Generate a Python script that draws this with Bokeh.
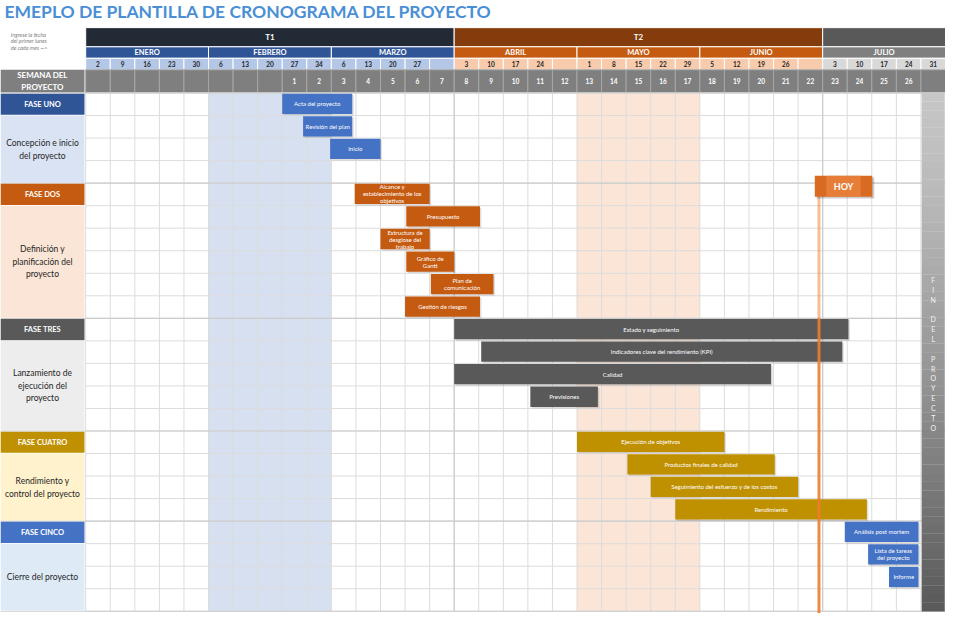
import numpy as np
from bokeh.plotting import figure
from bokeh.models import ColumnDataSource, Range1d
from bokeh.core.properties import value
from bokeh.embed import file_html
from bokeh.resources import INLINE

FONT = "Lato"

# ---------------- data ----------------
TITLE = "EMEPLO DE PLANTILLA DE CRONOGRAMA DEL PROYECTO"
NOTE = "Ingrese la fecha\ndel primer lunes\nde cada mes —>"
WEEK_HEADER = "SEMANA DEL\nPROYECTO"

quarter_labels = ["T1", "T2", ""]
quarter_first_col = [0, 15, 30]
quarter_last_col = [15, 30, 35]

month_labels = ["ENERO", "FEBRERO", "MARZO", "ABRIL", "MAYO", "JUNIO", "JULIO"]
month_first_col = [0, 5, 10, 15, 20, 25, 30]
month_last_col = [5, 10, 15, 20, 25, 30, 35]
month_quarter = [0, 0, 0, 1, 1, 1, 2]

week_dates = ["2", "9", "16", "23", "30",
              "6", "13", "20", "27", "34",
              "6", "13", "20", "27", "",
              "3", "10", "17", "24", "",
              "1", "8", "15", "22", "29",
              "5", "12", "19", "26", "",
              "3", "10", "17", "24", "31"]
project_weeks = ["", "", "", "", "", "", "", "", "1", "2",
                 "3", "4", "5", "6", "7", "8", "9", "10", "11", "12",
                 "13", "14", "15", "16", "17", "18", "19", "20", "21", "22",
                 "23", "24", "25", "26", ""]

phase_names = ["FASE UNO", "FASE DOS", "FASE TRES", "FASE CUATRO", "FASE CINCO"]
phase_desc = ["Concepción e inicio\ndel proyecto",
              "Definición y\nplanificación del\nproyecto",
              "Lanzamiento de\nejecución del\nproyecto",
              "Rendimiento y\ncontrol del proyecto",
              "Cierre del proyecto"]
phase_first_row = [0, 4, 10, 15, 19]
phase_row_count = [4, 6, 5, 4, 4]

task_names = ["Acta del proyecto", "Revisión del plan", "Inicio",
              "Alcance y\nestablecimiento de los\nobjetivos", "Presupuesto",
              "Estructura de\ndesglose del\ntrabajo", "Gráfico de\nGantt",
              "Plan de\ncomunicación", "Gestión de riesgos",
              "Estado y seguimiento", "Indicadores clave del rendimiento (KPI)",
              "Calidad", "Previsiones",
              "Ejecución de objetivos", "Productos finales de calidad",
              "Seguimiento del esfuerzo y de los costos", "Rendimiento",
              "Análisis post mortem", "Lista de tareas\ndel proyecto", "Informe"]
task_row = [0, 1, 2, 4, 5, 6, 7, 8, 9, 10, 11, 12, 13, 15, 16, 17, 18, 19, 20, 21]
task_start = [8.0, 8.85, 9.95, 10.95, 13.05, 12.0, 13.05, 14.05, 13.0,
              15.0, 16.1, 15.0, 18.1, 20.0, 22.05, 23.0, 24.0, 30.9, 31.85, 32.7]
task_end = [10.85, 10.85, 12.0, 14.0, 16.05, 14.0, 15.0, 16.6, 16.05,
            31.05, 30.8, 27.9, 20.85, 26.0, 28.05, 29.0, 31.8, 33.9, 33.9, 33.9]
task_phase = [0, 0, 0, 1, 1, 1, 1, 1, 1, 2, 2, 2, 2, 3, 3, 3, 3, 4, 4, 4]

highlight_first_col = [5, 20]
highlight_last_col = [10, 25]

today_col = 29.85
TODAY = "HOY"
end_col = 34
END_TEXT = "FIN DEL PROYECTO"

# ---------------- styles ----------------
quarter_colors = ["#222a35", "#843c0c", "#595959"]
month_colors = ["#2f5597", "#c55a11", "#7f7f7f"]
date_colors = ["#b4c7e7", "#f8cbad", "#d9d9d9"]
phase_dark = ["#2f5597", "#c55a11", "#595959", "#bf9000", "#4472c4"]
phase_light = ["#dae3f3", "#fbe5d6", "#ededed", "#fff2cc", "#deebf7"]
bar_colors = ["#4472c4", "#c55a11", "#595959", "#bf9000", "#4472c4"]
highlight_colors = ["#d6e0f1", "#fbe5d7"]

ncols = len(week_dates)
nrows = sum(phase_row_count)
Q = (-2.9, -2.05)
M = (-2.05, -1.54)
D = (-1.54, -1.03)
W = (-1.03, -0.02)
LEFT = -3.47

p = figure(width=945, height=613, output_backend="svg", toolbar_location=None,
           x_range=Range1d(-3.468, 35.0), y_range=Range1d(23.1, -4.105),
           x_axis_location=None, y_axis_location=None, min_border=0)
p.grid.visible = False
p.outline_line_color = None
p.background_fill_color = "white"

F = value(FONT)

# title
p.text(x=[-3.31], y=[-3.6], text=[TITLE], text_font=F, text_font_style="bold",
       text_font_size="17.5px", text_color="#4a8fd6", text_baseline="middle", text_align="left")
p.text(x=[-3.05], y=[-2.3], text=[NOTE], text_font=F, text_font_style="italic",
       text_font_size="5.5px", text_color="#7f7f7f", text_baseline="middle", text_align="left",
       text_line_height=1.1)

# quarter row
qs = ColumnDataSource(dict(l=quarter_first_col, r=quarter_last_col, c=quarter_colors,
                           t=quarter_labels, x=[(a + b) / 2 for a, b in zip(quarter_first_col, quarter_last_col)]))
p.quad(left="l", right="r", top=Q[0], bottom=Q[1], fill_color="c", line_color="white", line_width=1, source=qs)
p.text(x="x", y=(Q[0] + Q[1]) / 2, text="t", source=qs, text_font=F, text_font_style="bold",
       text_font_size="8px", text_color="white", text_align="center", text_baseline="middle")

# month row
ms = ColumnDataSource(dict(l=month_first_col, r=month_last_col,
                           c=[month_colors[q] for q in month_quarter], t=month_labels,
                           x=[(a + b) / 2 for a, b in zip(month_first_col, month_last_col)]))
p.quad(left="l", right="r", top=M[0], bottom=M[1], fill_color="c", line_color="white", line_width=1, source=ms)
p.text(x="x", y=(M[0] + M[1]) / 2, text="t", source=ms, text_font=F, text_font_style="bold",
       text_font_size="7.5px", text_color="white", text_align="center", text_baseline="middle")

# date row + week row
cols = np.arange(ncols)
col_month = np.searchsorted(month_first_col, cols, side="right") - 1
ds = ColumnDataSource(dict(l=cols, r=cols + 1, x=cols + 0.5,
                           c=[date_colors[month_quarter[m]] for m in col_month],
                           d=week_dates, w=project_weeks))
p.quad(left="l", right="r", top=D[0], bottom=D[1], fill_color="c", line_color="white", line_width=1, source=ds)
p.text(x="x", y=(D[0] + D[1]) / 2, text="d", source=ds, text_font=F, text_font_style="bold",
       text_font_size="6.5px", text_color="#262626", text_align="center", text_baseline="middle")
p.quad(left="l", right="r", top=W[0], bottom=W[1], fill_color="#7f7f7f", line_color="#a6a6a6", line_width=1, source=ds)
p.text(x="x", y=(W[0] + W[1]) / 2, text="w", source=ds, text_font=F, text_font_style="bold",
       text_font_size="6.5px", text_color="white", text_align="center", text_baseline="middle")
p.quad(left=[LEFT], right=[-0.05], top=W[0], bottom=W[1], fill_color="#7f7f7f", line_color=None)
p.text(x=[(LEFT - 0.05) / 2], y=[(W[0] + W[1]) / 2], text=[WEEK_HEADER], text_font=F,
       text_font_style="bold", text_font_size="8px", text_color="white", text_align="center",
       text_baseline="middle", text_line_height=1.15)

# highlight bands
p.quad(left=highlight_first_col, right=highlight_last_col, top=0, bottom=nrows,
       fill_color=highlight_colors, line_color=None)

# grid
p.segment(x0=list(range(ncols + 1)), x1=list(range(ncols + 1)), y0=0, y1=nrows,
          line_color="#dcdcdc", line_width=1)
p.segment(x0=0, x1=ncols, y0=list(range(nrows + 1)), y1=list(range(nrows + 1)),
          line_color="#dcdcdc", line_width=1)
bounds = phase_first_row + [nrows]
p.segment(x0=LEFT, x1=ncols, y0=bounds, y1=bounds, line_color="#cccccc", line_width=1.2)
p.segment(x0=[15, 30], x1=[15, 30], y0=0, y1=nrows, line_color="#cccccc", line_width=1.2)

# phase label column
hs = ColumnDataSource(dict(top=[r + 0.03 for r in phase_first_row],
                           bot=[r + 0.97 for r in phase_first_row],
                           y=[r + 0.5 for r in phase_first_row],
                           c=phase_dark, t=phase_names))
p.quad(left=LEFT, right=-0.05, top="top", bottom="bot", fill_color="c", line_color=None, source=hs)
p.text(x=(LEFT - 0.05) / 2, y="y", text="t", source=hs, text_font=F, text_font_style="bold",
       text_font_size="7.5px", text_color="white", text_align="center", text_baseline="middle")
dsrc = ColumnDataSource(dict(top=[r + 1.0 for r in phase_first_row],
                             bot=[r + n - 0.03 for r, n in zip(phase_first_row, phase_row_count)],
                             y=[r + (n + 1) / 2 for r, n in zip(phase_first_row, phase_row_count)],
                             c=phase_light, t=phase_desc))
p.quad(left=LEFT, right=-0.05, top="top", bottom="bot", fill_color="c", line_color=None, source=dsrc)
p.text(x=(LEFT - 0.05) / 2, y="y", text="t", source=dsrc, text_font=F,
       text_font_size="8.5px", text_color="#262626", text_align="center", text_baseline="middle",
       text_line_height=1.25)

# end-of-project column (vertical gradient)
n_strips = 60
edges = np.linspace(0, nrows, n_strips + 1)
c0 = np.array([0xc6, 0xc6, 0xc6])
c1 = np.array([0x5a, 0x5a, 0x5a])
strip_cols = ["#%02x%02x%02x" % tuple((c0 + (c1 - c0) * (i / (n_strips - 1)) ** 1.3).astype(int))
              for i in range(n_strips)]
p.quad(left=end_col + 0.03, right=end_col + 0.97, top=edges[:-1], bottom=edges[1:] + 0.01,
       fill_color=strip_cols, line_color=None)
letters = list(END_TEXT)
p.text(x=end_col + 0.5, y=[8.3 + 0.437 * i for i in range(len(letters))], text=letters,
       text_font=F, text_font_size="7px", text_color="#f2f2f2", text_align="center",
       text_baseline="middle")

# task bars
ts = ColumnDataSource(dict(l=task_start, r=task_end,
                           top=[r + 0.03 for r in task_row], bot=[r + 0.93 for r in task_row],
                           x=[(a + b) / 2 for a, b in zip(task_start, task_end)],
                           y=[r + 0.48 for r in task_row],
                           c=[bar_colors[k] for k in task_phase], t=task_names))
sh = ColumnDataSource(dict(l=[a + 0.06 for a in task_start], r=[b + 0.06 for b in task_end],
                           top=[r + 0.09 for r in task_row], bot=[r + 0.99 for r in task_row]))
p.quad(left="l", right="r", top="top", bottom="bot", source=sh, fill_color="black",
       fill_alpha=0.13, line_color=None)
p.quad(left="l", right="r", top="top", bottom="bot", source=ts, fill_color="c", line_color=None)
p.text(x="x", y="y", text="t", source=ts, text_font=F, text_font_size="6px",
       text_color="white", text_align="center", text_baseline="middle", text_line_height=1.0)

# today marker
p.segment(x0=[today_col], x1=[today_col], y0=[4.6], y1=[10.0], line_color="#ed7d31",
          line_width=3, line_alpha=0.5)
p.segment(x0=[today_col], x1=[today_col], y0=[10.0], y1=[23.1], line_color="#ed7d31",
          line_width=3, line_alpha=0.9)
p.quad(left=[today_col - 0.1], right=[today_col + 2.25], top=[3.75], bottom=[4.68],
       fill_color="black", fill_alpha=0.2, line_color=None)
p.quad(left=[today_col - 0.17], right=[today_col + 2.17], top=[3.67], bottom=[4.6],
       fill_color="#d86a22", line_color=None)
p.quad(left=[today_col + 0.3], right=[today_col + 1.7], top=[3.67], bottom=[4.6],
       fill_color="#f08c4a", fill_alpha=0.6, line_color=None)
p.text(x=[today_col + 1.0], y=[4.13], text=[TODAY], text_font=F, text_font_style="bold",
       text_font_size="9px", text_color="white", text_align="center", text_baseline="middle")

open("out.html", "w").write(file_html(p, INLINE))
